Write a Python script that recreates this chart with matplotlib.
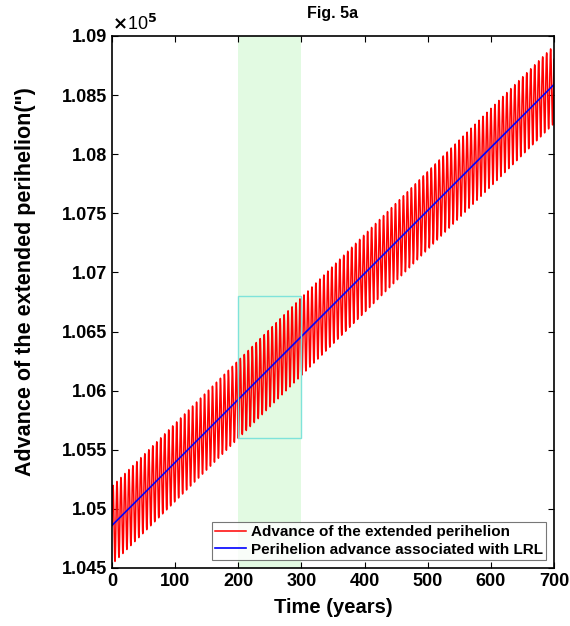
import numpy as np
import matplotlib
matplotlib.use('Agg')
from matplotlib import pyplot as plt
import matplotlib.patches as mpatches
import matplotlib.ticker as ticker

plt.rcParams['font.family'] = ['Liberation Sans', 'DejaVu Sans']
plt.rcParams['font.weight'] = 'bold'

# values (arcsec)
t_range = [0, 700]
lrl_advance = [1.0486e5, 1.0859e5]     # blue line, start / end
osc_amplitude = 330.0                   # half height of red band
osc_period = 6.3                        # years per red oscillation
window_years = [200, 300]               # green band
zoom_box = [1.056e5, 1.068e5]           # cyan rectangle y range
xticks = [0, 100, 200, 300, 400, 500, 600, 700]
yticks = [1.045, 1.05, 1.055, 1.06, 1.065, 1.07, 1.075, 1.08, 1.085, 1.09]

t = np.linspace(t_range[0], t_range[1], 14000)
trend = np.interp(t, t_range, lrl_advance)
red = trend + osc_amplitude*np.sin(2*np.pi*t/osc_period)

fig = plt.figure(figsize=(5.7, 6.26), dpi=100)
ax = fig.add_axes([0.1965, 0.0927, 0.7755, 0.8498])

ax.axvspan(window_years[0], window_years[1], color='#e2fae2', zorder=0, lw=0)
ax.plot(t, red, color='red', lw=1.1, label='Advance of the extended perihelion')
ax.plot(t_range, lrl_advance, color='blue', lw=1.2, label='Perihelion advance associated with LRL')
ax.add_patch(mpatches.Rectangle((window_years[0], zoom_box[0]), window_years[1]-window_years[0],
                                zoom_box[1]-zoom_box[0], fill=False, ec='#7fe3da', lw=1.0, zorder=3))

ax.set_xlim(0, 700)
ax.set_ylim(1.045e5, 1.09e5)
ax.set_xticks(xticks)
ax.set_yticks([v*1e5 for v in yticks])
ax.yaxis.set_major_formatter(ticker.FuncFormatter(lambda v, p: '%g' % round(v/1e5, 4)))
ax.tick_params(direction='in', top=True, right=True, labelsize=13, length=4, width=0.8)
for s in ax.spines.values():
    s.set_linewidth(1.2)

ax.text(0.0, 1.004, r'$\times$10$^5$', transform=ax.transAxes, fontsize=13, va='bottom', ha='left',
        fontweight='normal')
ax.set_title('Fig. 5a', fontsize=11.5, fontweight='bold', pad=13)
ax.set_xlabel('Time (years)', fontsize=14.5, fontweight='bold', labelpad=6)
ax.set_ylabel('Advance of the extended perihelion(")', fontsize=15.5, fontweight='bold')
ax.yaxis.set_label_coords(-0.172, 0.5376)

leg = ax.legend(loc='lower right', fontsize=11, frameon=True, fancybox=False, edgecolor='#555555',
                handlelength=2.0, borderpad=0.25, labelspacing=0.2, handletextpad=0.3,
                borderaxespad=0.5)
leg.get_frame().set_linewidth(0.8)

fig.savefig('out.png', dpi=100)
